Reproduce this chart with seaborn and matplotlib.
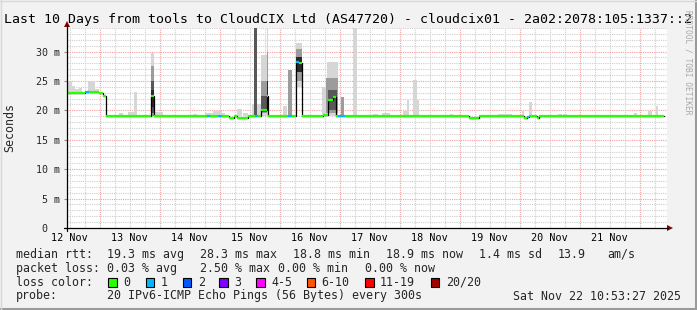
import matplotlib
matplotlib.use("Agg")
import matplotlib.pyplot as plt
import seaborn as sns
import pandas as pd
from matplotlib.patches import Rectangle, Polygon
from matplotlib.lines import Line2D

W, H = 697, 310

# ---------------- data (time = hours since 12 Nov 00:00, values in ms) ----------------
t_first = 10.88
t_last = 250.88
day_label_hours = [12, 36, 60, 84, 108, 132, 156, 180, 204, 228]
day_labels = ["12 Nov", "13 Nov", "14 Nov", "15 Nov", "16 Nov",
              "17 Nov", "18 Nov", "19 Nov", "20 Nov", "21 Nov"]
y_tick_values = [0, 5, 10, 15, 20, 25, 30]
y_tick_labels = ["0  ", "5 m", "10 m", "15 m", "20 m", "25 m", "30 m"]

# median rtt, step segments
med_start = [10.9, 17.9, 19.5, 23.5, 25.3, 26.5, 44.6, 45.6, 66.9, 67.9, 71.3, 72.7,
             75.7, 77.7, 78.9, 83.3, 86.0, 87.2, 88.5, 90.8, 91.3, 99.3, 100.9, 102.5,
             103.5, 104.9, 113.3, 115.2, 117.2, 118.6, 119.2, 121.9, 171.7, 175.7,
             193.7, 194.9, 195.7, 198.9, 199.7]
med_end = 249.7
med_value = [23.0, 23.1, 23.2, 23.0, 22.4, 19.0, 22.5, 19.0, 19.0, 19.0, 19.0, 19.0,
             18.7, 19.0, 18.7, 19.0, 19.0, 19.0, 20.1, 22.5, 19.0, 19.0, 19.0, 28.2,
             28.0, 19.0, 19.2, 21.7, 22.2, 19.0, 19.0, 19.0, 18.7, 19.0,
             18.7, 18.8, 19.0, 18.7, 19.0]
med_loss = [0, 1, 0, 0, 0, 0, 0, 0, 1, 0, 1, 0,
            0, 0, 0, 0, 1, 0, 0, 0, 0, 1, 0, 1,
            0, 0, 0, 0, 0, 0, 1, 0, 0, 0,
            0, 1, 0, 0, 0]

# smoke (ping spread) blocks: start, end, low, high, density level
smoke_t0 = [11.1, 12.9, 14.1, 15.7, 19.3, 22.1, 31.7, 35.3, 37.7,
            44.6, 44.6, 44.6, 44.6, 45.6, 48.1, 61.3, 66.1, 69.3, 72.9, 78.9, 81.3,
            84.9, 85.7, 87.0, 88.5, 88.5, 88.5, 90.8, 90.8, 90.8, 97.3, 99.3,
            102.5, 102.5, 102.5, 112.9, 114.9, 114.5, 115.3, 120.6, 125.3,
            133.3, 136.9, 145.3, 146.9, 149.3, 150.9, 164.1, 183.3, 192.9, 195.7,
            207.3, 209.3, 237.7, 243.3, 246.5]
smoke_t1 = [12.9, 14.1, 15.7, 16.9, 22.1, 23.5, 33.3, 37.7, 38.9,
            45.6, 45.6, 45.6, 45.6, 48.1, 49.3, 62.9, 69.3, 72.9, 74.1, 80.9, 83.3,
            85.7, 87.0, 88.5, 90.8, 90.8, 90.8, 91.3, 91.3, 91.3, 98.9, 100.9,
            104.9, 104.9, 104.9, 114.9, 119.2, 119.2, 118.8, 121.7, 126.9,
            135.3, 140.1, 146.9, 147.7, 150.9, 151.7, 165.3, 188.9, 193.7, 196.9,
            208.9, 210.9, 238.9, 244.9, 247.3]
smoke_lo = [23.0, 23.0, 23.0, 23.0, 23.2, 23.2, 19.0, 19.0, 19.0,
            19.0, 19.0, 19.5, 20.5, 18.9, 19.0, 19.0, 19.0, 19.0, 19.0, 19.0, 19.0,
            19.0, 19.0, 19.0, 19.0, 19.5, 19.8, 19.0, 20.0, 21.0, 19.0, 19.0,
            24.0, 25.0, 26.5, 19.0, 19.0, 19.5, 20.0, 19.0, 19.0,
            19.0, 19.0, 19.0, 19.0, 19.0, 19.0, 19.0, 19.0, 19.0, 19.0,
            19.0, 19.0, 19.0, 19.0, 19.0]
smoke_hi = [25.0, 24.2, 23.7, 23.8, 25.0, 23.6, 19.6, 19.8, 23.1,
            29.8, 27.5, 25.0, 23.5, 19.8, 19.7, 19.4, 19.6, 19.9, 19.5, 20.2, 19.6,
            21.1, 34.5, 21.1, 29.4, 25.0, 22.5, 34.5, 30.0, 25.0, 20.7, 26.8,
            31.5, 30.5, 29.0, 24.0, 28.2, 25.5, 23.5, 22.3, 34.5,
            19.4, 19.6, 19.9, 21.8, 25.2, 21.7, 19.4, 19.4, 19.9, 21.4,
            19.4, 19.4, 19.6, 19.9, 20.8]
smoke_level = [0, 0, 0, 0, 0, 0, 0, 0, 0,
               0, 1, 2, 3, 0, 0, 0, 0, 0, 0, 0, 0,
               0, 2, 0, 0, 1, 2, 0, 1, 3, 0, 1,
               0, 1, 3, 0, 0, 1, 2, 1, 0,
               0, 0, 0, 0, 0, 0, 0, 0, 0, 0,
               0, 0, 0, 0, 0]

loss_labels = ["0", "1", "2", "3", "4-5", "6-10", "11-19", "20/20"]
loss_colors = ["#26ff00", "#00b8ff", "#0059ff", "#7e00ff", "#ff00ff",
               "#ff5500", "#ff0000", "#a10000"]

title = "Last 10 Days from tools to CloudCIX Ltd (AS47720) - cloudcix01 - 2a02:2078:105:1337::2"
stat_rtt = ["19.3 ms avg", "28.3 ms max", "18.8 ms min", "18.9 ms now", "1.4 ms sd", "13.9", "am/s"]
stat_loss = ["0.03 % avg", "2.50 % max", "0.00 % min", "0.00 % now"]
probe_text = "20 IPv6-ICMP Echo Pings (56 Bytes) every 300s"
stamp_text = "Sat Nov 22 10:53:27 2025"

# ---------------- styling ----------------
sns.set_theme(style="white")
plt.rcParams["font.family"] = ["DejaVu Sans Mono"]

BG = "#f2f2f2"
fig = plt.figure(figsize=(W / 100, H / 100), dpi=100, facecolor=BG)


def FX(px):
    return px / W


def FY(py):
    return 1 - py / H


ax = fig.add_axes([FX(67), 82 / H, 600 / W, 200 / H])
ax.set_facecolor("white")
ax.set_xlim(t_first, t_last)
ax.set_ylim(0, 34.0)
for s in ax.spines.values():
    s.set_visible(False)

# grid
dot = (0, (1, 1))
for h in range(12, 251, 6):
    major = (h % 24 == 0)
    ax.axvline(h, color="#f2a0a0" if major else "#cfcfcf", lw=0.8, ls=dot, zorder=0.5)
for v in range(1, 35):
    major = (v % 5 == 0)
    ax.axhline(v, color="#f2a0a0" if major else "#cfcfcf", lw=0.8, ls=dot, zorder=0.5)

# smoke
smoke = pd.DataFrame({"t0": smoke_t0, "t1": smoke_t1, "lo": smoke_lo,
                      "hi": smoke_hi, "lvl": smoke_level}).sort_values("lvl", kind="stable")
shade = {0: "#d6d6d6", 1: "#9c9c9c", 2: "#585858", 3: "#2a2a2a"}
ax.bar(smoke["t0"], smoke["hi"] - smoke["lo"], width=smoke["t1"] - smoke["t0"],
       bottom=smoke["lo"], align="edge", color=[shade[l] for l in smoke["lvl"]],
       linewidth=0, zorder=2)

# median: thin black step line + loss-coloured segments
med_df = pd.DataFrame({"t": med_start + [med_end], "v": med_value + [med_value[-1]]})
sns.lineplot(data=med_df, x="t", y="v", drawstyle="steps-post", color="black",
             lw=0.9, estimator=None, sort=False, ax=ax, zorder=3)
seg_end = med_start[1:] + [med_end]
ax.hlines(med_value, med_start, seg_end, colors=[loss_colors[l] for l in med_loss],
          lw=1.6, zorder=4)
ax.set_xlabel("")
ax.set_ylabel("")

# ticks
ax.set_xticks(day_label_hours)
ax.set_xticklabels(day_labels, fontsize=7.3)
ax.set_xticks(list(range(24, 250, 24)), minor=True)
ax.tick_params(axis="x", which="major", length=0, pad=3.6, colors="black")
ax.tick_params(axis="x", which="minor", length=2.2, width=0.8, color="#e06060", direction="out")
ax.set_yticks(y_tick_values)
ax.set_yticklabels(y_tick_labels, fontsize=7.2)
ax.tick_params(axis="y", which="major", length=2.2, width=0.8, color="#909090",
               pad=3.0, direction="out", left=True)

# axis lines with arrows
fig.add_artist(Line2D([FX(67), FX(67)], [FY(231), FY(25)], color="black", lw=0.9))
fig.add_artist(Line2D([FX(64), FX(668)], [FY(228), FY(228)], color="black", lw=0.9))
fig.add_artist(Polygon([[FX(64), FY(27)], [FX(70), FY(27)], [FX(67), FY(21)]],
                       closed=True, color="#8b0000", lw=0))
fig.add_artist(Polygon([[FX(667), FY(225)], [FX(667), FY(231)], [FX(673), FY(228)]],
                       closed=True, color="#8b0000", lw=0))

# title & labels
fig.text(FX(348.5), FY(20), title, ha="center", va="center", fontsize=9.55, color="black")
fig.text(FX(10), FY(127), "Seconds", rotation=90, ha="center", va="center", fontsize=8.4)
fig.text(FX(688), FY(62), "RRDTOOL / TOBI OETIKER", rotation=270, ha="center",
         va="center", fontsize=5.7, color="#a8a8a8")

# legend block
LF = 8.4
rows = [254.3, 268.3, 282.3, 296.0]
fig.text(FX(16), FY(rows[0]), "median rtt:", va="center", fontsize=LF)
for txt, px in zip(stat_rtt, [107, 200, 293, 386, 479, 558, 607]):
    fig.text(FX(px), FY(rows[0]), txt, va="center", fontsize=LF)
fig.text(FX(16), FY(rows[1]), "packet loss:", va="center", fontsize=LF)
for txt, px in zip(stat_loss, [107, 200, 278, 365]):
    fig.text(FX(px), FY(rows[1]), txt, va="center", fontsize=LF)
fig.text(FX(16), FY(rows[2]), "loss color:", va="center", fontsize=LF)
for lab, col, px in zip(loss_labels, loss_colors, [108.3, 145.7, 182.7, 219.3, 256, 306.7, 365, 430.7]):
    fig.add_artist(Rectangle((FX(px), FY(rows[2] + 4.5)), 8.5 / W, 9 / H,
                             facecolor=col, edgecolor="black", lw=0.8))
    fig.text(FX(px + 15), FY(rows[2]), lab, va="center", fontsize=LF)
fig.text(FX(16), FY(rows[3]), "probe:", va="center", fontsize=LF)
fig.text(FX(107), FY(rows[3]), probe_text, va="center", fontsize=LF)
fig.text(FX(513), FY(rows[3]), stamp_text, va="center", fontsize=LF)

# frame
fig.add_artist(Line2D([0, 1], [FY(308.5), FY(308.5)], color="#9a9a9a", lw=2.2))
fig.add_artist(Line2D([FX(695.5), FX(695.5)], [0, 1], color="#9a9a9a", lw=2.2))
fig.add_artist(Line2D([0, 1], [FY(0.5), FY(0.5)], color="#d8d8d8", lw=1))
fig.add_artist(Line2D([FX(0.5), FX(0.5)], [0, 1], color="#d8d8d8", lw=1))

fig.savefig("out.png", dpi=100, facecolor=BG)
